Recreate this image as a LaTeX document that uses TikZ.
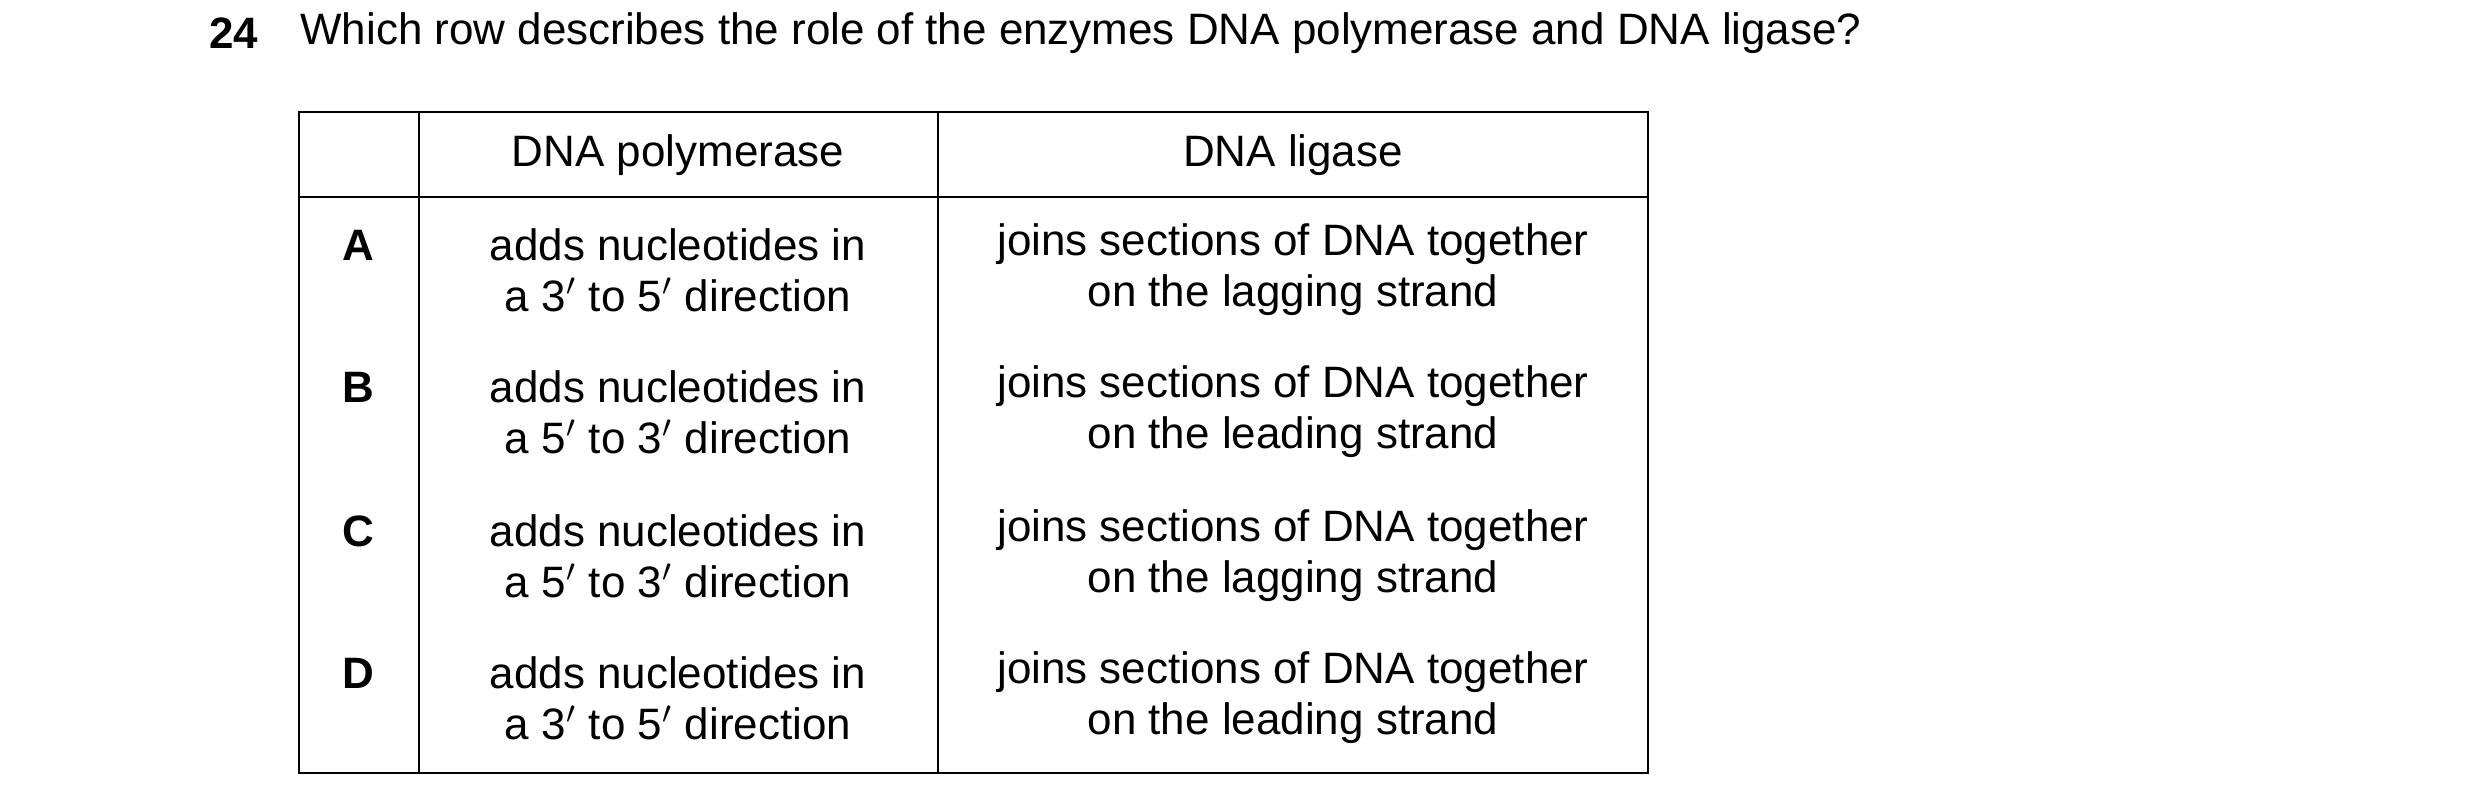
\documentclass[tikz,border=0pt]{standalone}
\usepackage{fontspec}
\setmainfont{Liberation Sans}
\begin{document}
\begin{tikzpicture}[
 x=0.01cm,y=-0.01cm,
 line width=0.8pt,
 txt/.style={align=center,font=\fontsize{12.5}{14.5}\selectfont,inner sep=0pt},
 lbl/.style={font=\fontsize{12.5}{14.5}\selectfont\bfseries,inner sep=0pt}
]
\useasboundingbox (0,0) rectangle (2480,804);
\node (num) [lbl,anchor=west] at (208,33) {24};
\node (title) [txt,anchor=west] at (299,33) {Which row describes the role of the enzymes DNA polymerase and DNA ligase?};
% table frame
\draw (299,112) rectangle (1648,773);
\draw (419,112) -- (419,773);
\draw (938,112) -- (938,773);
\draw (299,197) -- (1648,197);
% header
\node (hpol) [txt] at (678,155) {DNA polymerase};
\node (hlig) [txt] at (1293,155) {DNA ligase};
% rows
\foreach \row/\y/\a/\b/\s in {A/270/5/3/lagging, B/412/3/5/leading, C/556/3/5/lagging, D/698/5/3/leading}{
  \node (l\row) [lbl] at (358,245+\y-270) {\row};
  \node (p\row) [txt] at (678,\y) {adds nucleotides in\\a \b$'$ to \a$'$ direction};
  \node (g\row) [txt] at (1293,\y) {joins sections of DNA together\\on the \s\ strand};
}
\end{tikzpicture}
\end{document}
